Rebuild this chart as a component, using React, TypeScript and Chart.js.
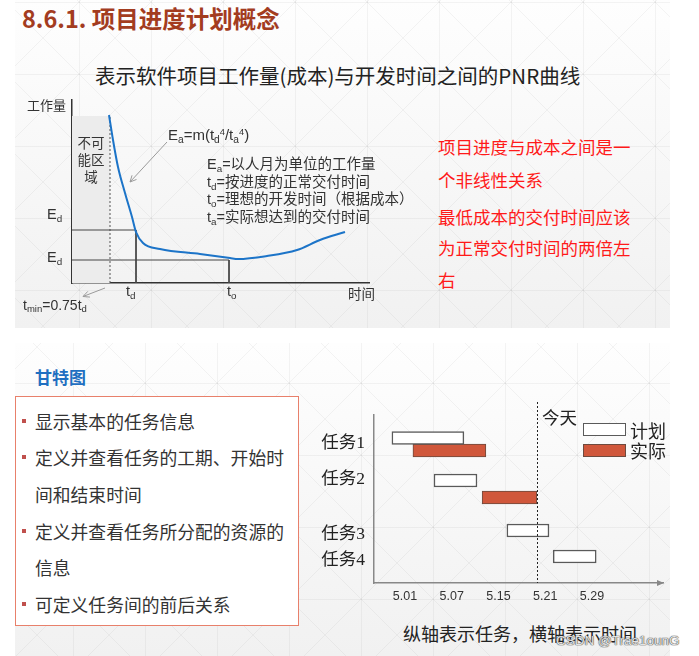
import React, { useEffect, useRef } from 'react';
import { Chart, registerables } from 'chart.js';

Chart.register(...registerables);

// ---------- PNR curve (top) ----------
const curveT = [3.7, 4.1, 4.6, 5.3, 6.0, 6.4, 7.1, 8.8, 12.8, 15.8, 16.6, 19.5, 22.5, 24.8, 27.3];
const curveE = [16.8, 14.3, 11.6, 9.0, 6.6, 5.1, 4.0, 3.4, 2.9, 2.5, 2.4, 2.7, 3.3, 4.3, 5.1];
const tMin = 3.8;
const tD = 6.4;
const tO = 15.7;
const eD = 5.3;
const eO = 2.3;
const zoneTop = 16.7;
// annotation arrows [fromT, fromE, toT, toE]
const pnrArrows = [
  [9.5, 14.1, 5.8, 10.1],
  [3.3, -0.5, 1.1, -1.35],
];

// ---------- Gantt (bottom) ----------
const tasks = ['任务1', '任务2', '任务3', '任务4'];
const timeLabels = ['5.01', '5.07', '5.15', '5.21', '5.29'];
const planStart = [-0.28, 0.62, 2.18, 3.17];
const planEnd = [1.26, 1.54, 3.08, 4.09];
const actualStart = [0.17, 1.65];
const actualEnd = [1.73, 2.82];
const todayPos = 2.82;
// row layout (vertical position units)
const planRow = [2.3, 6.55, 11.55, 14.15];
const actualRow = [3.55, 8.25];
const labelRow = [2.8, 6.4, 11.9, 14.5];
const todayTop = -1.3;

const SANS = "'Liberation Sans', 'Noto Sans CJK SC', sans-serif";
const CJK = "'Noto Sans CJK SC', 'Liberation Sans', sans-serif";
const SERIF_CJK = "'Liberation Serif', 'Noto Sans CJK SC', serif";

const tile = `<svg xmlns='http://www.w3.org/2000/svg' width='72' height='72'><path d='M0 0.5H72M0.5 0V72M0 0L72 72M72 0L0 72' stroke='rgba(0,0,0,0.045)' fill='none' stroke-width='1'/></svg>`;
const tileUrl = `url("data:image/svg+xml;utf8,${encodeURIComponent(tile)}")`;

function T(props: any) {
  const { x, cy, size, children, color = '#333', bold = false, family = SANS, style = {} } = props;
  return (
    <div
      style={{
        position: 'absolute',
        left: x,
        top: cy - size * 0.75,
        lineHeight: `${size * 1.5}px`,
        fontSize: size,
        color,
        fontWeight: bold ? 700 : 400,
        fontFamily: family,
        whiteSpace: 'nowrap',
        ...style,
      }}
    >
      {children}
    </div>
  );
}
const Sub = ({ children }: any) => (
  <span style={{ fontSize: '0.68em', position: 'relative', top: '0.3em' }}>{children}</span>
);
const Sup = ({ children }: any) => (
  <span style={{ fontSize: '0.62em', position: 'relative', top: '-0.5em' }}>{children}</span>
);

export default function App() {
  const pnrRef = useRef<HTMLCanvasElement>(null);
  const ganttRef = useRef<HTMLCanvasElement>(null);

  useEffect(() => {
    const arrowPlugin = {
      id: 'pnrArrows',
      afterDraw(chart: any) {
        const { ctx } = chart;
        const xs = chart.scales.x;
        const ys = chart.scales.y;
        ctx.save();
        ctx.strokeStyle = '#9a9a9a';
        ctx.lineWidth = 1;
        pnrArrows.forEach(([a, b, c, d]) => {
          const x1 = xs.getPixelForValue(a);
          const y1 = ys.getPixelForValue(b);
          const x2 = xs.getPixelForValue(c);
          const y2 = ys.getPixelForValue(d);
          ctx.beginPath();
          ctx.moveTo(x1, y1);
          ctx.lineTo(x2, y2);
          const ang = Math.atan2(y2 - y1, x2 - x1);
          const L = 7;
          ctx.moveTo(x2 - L * Math.cos(ang - 0.45), y2 - L * Math.sin(ang - 0.45));
          ctx.lineTo(x2, y2);
          ctx.lineTo(x2 - L * Math.cos(ang + 0.45), y2 - L * Math.sin(ang + 0.45));
          ctx.stroke();
        });
        ctx.restore();
      },
    };

    const pts = curveT.map((t, i) => ({ x: t, y: curveE[i] }));
    const c1 = new Chart(pnrRef.current as HTMLCanvasElement, {
      type: 'scatter',
      data: {
        datasets: [
          {
            data: pts,
            showLine: true,
            borderColor: '#1c74c8',
            borderWidth: 2,
            pointRadius: 0,
            cubicInterpolationMode: 'monotone',
            order: 0,
          } as any,
          {
            data: [
              { x: 0, y: eD },
              { x: tD, y: eD },
              { x: tD, y: 0 },
            ],
            showLine: true,
            borderColor: '#444',
            borderWidth: 1,
            pointRadius: 0,
            order: 1,
          },
          {
            data: [
              { x: 0, y: eO },
              { x: tO, y: eO },
              { x: tO, y: 0 },
            ],
            showLine: true,
            borderColor: '#444',
            borderWidth: 1,
            pointRadius: 0,
            order: 1,
          },
          {
            data: [
              { x: tMin, y: 0 },
              { x: tMin, y: zoneTop },
            ],
            showLine: true,
            borderColor: '#555',
            borderWidth: 1,
            borderDash: [2, 2],
            pointRadius: 0,
            order: 2,
          },
          {
            data: [
              { x: 0, y: zoneTop },
              { x: tMin, y: zoneTop },
            ],
            showLine: true,
            borderColor: 'transparent',
            backgroundColor: '#ececec',
            fill: 'origin',
            pointRadius: 0,
            order: 10,
          } as any,
        ],
      },
      options: {
        responsive: false,
        animation: false,
        devicePixelRatio: 1,
        layout: { padding: { left: 72, top: 10, right: 31, bottom: 27 } },
        plugins: { legend: { display: false }, tooltip: { enabled: false } },
        events: [],
        scales: {
          x: {
            type: 'linear',
            min: 0,
            max: 29.7,
            grid: { display: false, drawTicks: false },
            ticks: { display: false },
            border: { display: true, color: '#333', width: 1.5 },
            afterFit: (s: any) => {
              s.height = 0;
            },
          },
          y: {
            type: 'linear',
            min: 0,
            max: 18.3,
            grid: { display: false, drawTicks: false },
            ticks: { display: false },
            border: { display: true, color: '#333', width: 1.5 },
            afterFit: (s: any) => {
              s.width = 0;
            },
          },
        },
      } as any,
      plugins: [arrowPlugin],
    });

    const ganttPlugin = {
      id: 'ganttExtras',
      afterDatasetsDraw(chart: any) {
        const { ctx, chartArea } = chart;
        const xs = chart.scales.x;
        const ys = chart.scales.y;
        ctx.save();
        // today line
        const tx = Math.round(xs.getPixelForValue(todayPos)) + 0.5;
        ctx.strokeStyle = '#222';
        ctx.lineWidth = 1;
        ctx.setLineDash([2, 2]);
        ctx.beginPath();
        ctx.moveTo(tx, ys.getPixelForValue(todayTop));
        ctx.lineTo(tx, chartArea.bottom);
        ctx.stroke();
        ctx.setLineDash([]);
        // x axis arrow head
        ctx.fillStyle = '#888';
        ctx.beginPath();
        ctx.moveTo(chartArea.right + 1, chartArea.bottom);
        ctx.lineTo(chartArea.right - 6, chartArea.bottom - 3);
        ctx.lineTo(chartArea.right - 6, chartArea.bottom + 3);
        ctx.closePath();
        ctx.fill();
        ctx.restore();
      },
    };

    const c2 = new Chart(ganttRef.current as HTMLCanvasElement, {
      type: 'bar',
      data: {
        datasets: [
          {
            label: '计划',
            data: planStart.map((s, i) => ({ x: [s, planEnd[i]], y: planRow[i] })),
            backgroundColor: '#ffffff',
            borderColor: '#5a5a5a',
            borderWidth: 1.5,
            borderSkipped: false,
            barThickness: 13,
            grouped: false,
          } as any,
          {
            label: '实际',
            data: actualStart.map((s, i) => ({ x: [s, actualEnd[i]], y: actualRow[i] })),
            backgroundColor: '#d0573b',
            borderColor: '#6e4a3e',
            borderWidth: 1,
            borderSkipped: false,
            barThickness: 13,
            grouped: false,
          } as any,
        ],
      },
      options: {
        indexAxis: 'y',
        responsive: false,
        animation: false,
        devicePixelRatio: 1,
        events: [],
        layout: { padding: { left: 0, top: 35, right: 36, bottom: 7 } },
        plugins: { legend: { display: false }, tooltip: { enabled: false } },
        scales: {
          x: {
            type: 'linear',
            min: -0.663,
            max: 5.519,
            offset: false,
            grid: { display: false, drawTicks: false },
            border: { display: true, color: '#888', width: 1.5 },
            ticks: {
              autoSkip: false,
              maxRotation: 0,
              padding: 6,
              color: '#333',
              font: { family: SANS, size: 12.5 },
              callback: (_v: any, i: number) => timeLabels[i],
            },
            afterBuildTicks: (s: any) => {
              s.ticks = timeLabels.map((_, i) => ({ value: i }));
            },
            afterFit: (s: any) => {
              s.height = 30;
            },
          },
          y: {
            type: 'linear',
            reverse: true,
            min: 0,
            max: 16.8,
            offset: false,
            grid: { display: false, drawTicks: false },
            border: { display: true, color: '#888', width: 1.5 },
            ticks: {
              autoSkip: false,
              padding: 9,
              color: '#222',
              font: { family: SERIF_CJK, size: 17.5 },
              callback: (_v: any, i: number) => tasks[i],
            },
            afterBuildTicks: (s: any) => {
              s.ticks = labelRow.map((v) => ({ value: v }));
            },
            afterFit: (s: any) => {
              s.width = 74;
            },
          },
        },
      } as any,
      plugins: [ganttPlugin],
    });

    return () => {
      c1.destroy();
      c2.destroy();
    };
  }, []);

  const slideBg = (px: string) => ({
    backgroundImage: `${tileUrl}, linear-gradient(#fefefe, #f1f1f1)`,
    backgroundPosition: `${px}, 0 0`,
    backgroundRepeat: 'repeat, no-repeat',
  });

  const bullets = [
    { t: '显示基本的任务信息', cy: 421, b: true },
    { t: '定义并查看任务的工期、开始时', cy: 457, b: true },
    { t: '间和结束时间', cy: 494, b: false },
    { t: '定义并查看任务所分配的资源的', cy: 531, b: true },
    { t: '信息', cy: 567, b: false },
    { t: '可定义任务间的前后关系', cy: 604, b: true },
  ];

  const redLines = [
    { t: '项目进度与成本之间是一', cy: 147 },
    { t: '个非线性关系', cy: 180 },
    { t: '最低成本的交付时间应该', cy: 217 },
    { t: '为正常交付时间的两倍左', cy: 248 },
    { t: '右', cy: 280 },
  ];

  return (
    <div
      style={{
        position: 'absolute',
        left: 0,
        top: 0,
        width: 699,
        height: 656,
        overflow: 'hidden',
        background: '#ffffff',
        fontFamily: CJK,
      }}
    >
      {/* top slide */}
      <div style={{ position: 'absolute', left: 15, top: 0, width: 655, height: 328, ...slideBg('64px 2px') }} />
      {/* bottom slide */}
      <div style={{ position: 'absolute', left: 15, top: 343, width: 655, height: 313, ...slideBg('58px 40px') }} />

      <T x={22} cy={19} size={23.5} bold color="#a33c1f" family={CJK}>
        8.6.1. 项目进度计划概念
      </T>
      <T x={95} cy={75} size={20.5} color="#222" family={CJK}>
        表示软件项目工作量(成本)与开发时间之间的PNR曲线
      </T>

      <canvas
        ref={pnrRef}
        width={400}
        height={220}
        style={{ position: 'absolute', left: 0, top: 90, width: 400, height: 220 }}
      />

      <T x={27} cy={105} size={13} color="#333" family={CJK}>工作量</T>
      <div
        style={{
          position: 'absolute',
          left: 74,
          top: 134,
          width: 34,
          textAlign: 'center',
          fontSize: 13.5,
          lineHeight: '17px',
          color: '#333',
          fontFamily: CJK,
        }}
      >
        不可
        <br />
        能区
        <br />域
      </div>
      <T x={168} cy={135} size={15} color="#333">
        E<Sub>a</Sub>=m(t<Sub>d</Sub>
        <Sup>4</Sup>/t<Sub>a</Sub>
        <Sup>4</Sup>)
      </T>
      <T x={207} cy={165} size={14.5} color="#333">
        E<Sub>a</Sub>=以人月为单位的工作量
      </T>
      <T x={207} cy={183} size={14.5} color="#333">
        t<Sub>d</Sub>=按进度的正常交付时间
      </T>
      <T x={207} cy={200} size={14.5} color="#333">
        t<Sub>o</Sub>=理想的开发时间（根据成本）
      </T>
      <T x={207} cy={218} size={14.5} color="#333">
        t<Sub>a</Sub>=实际想达到的交付时间
      </T>
      <T x={47} cy={215} size={14.5} color="#333">
        E<Sub>d</Sub>
      </T>
      <T x={47} cy={258} size={14.5} color="#333">
        E<Sub>d</Sub>
      </T>
      <T x={126} cy={292} size={14.5} color="#333">
        t<Sub>d</Sub>
      </T>
      <T x={227} cy={292} size={14.5} color="#333">
        t<Sub>o</Sub>
      </T>
      <T x={348} cy={293} size={13.5} color="#333" family={CJK}>时间</T>
      <T x={23} cy={305} size={14} color="#333">
        t<Sub>min</Sub>=0.75t<Sub>d</Sub>
      </T>

      {redLines.map((l) => (
        <T key={l.t} x={438} cy={l.cy} size={17.5} color="#ff1a1a" family={CJK}>
          {l.t}
        </T>
      ))}

      {/* bottom left */}
      <T x={35} cy={377} size={17} bold color="#1f6fc1" family={CJK}>甘特图</T>
      <div
        style={{
          position: 'absolute',
          left: 15,
          top: 396,
          width: 282,
          height: 228,
          border: '1.5px solid #e8806b',
          background: '#ffffff',
        }}
      />
      {bullets.map((b) => (
        <React.Fragment key={b.t}>
          {b.b && (
            <div
              style={{
                position: 'absolute',
                left: 22,
                top: b.cy - 2,
                width: 4,
                height: 4,
                background: '#c0504d',
              }}
            />
          )}
          <T x={35} cy={b.cy} size={17.8} color="#333" family={CJK}>
            {b.t}
          </T>
        </React.Fragment>
      ))}

      {/* gantt */}
      <canvas
        ref={ganttRef}
        width={399}
        height={240}
        style={{ position: 'absolute', left: 300, top: 380, width: 399, height: 240 }}
      />
      <T x={542} cy={417} size={17.5} color="#222" family={CJK}>今天</T>
      <div
        style={{
          position: 'absolute',
          left: 583,
          top: 423,
          width: 43,
          height: 13,
          boxSizing: 'border-box',
          border: '1.5px solid #5a5a5a',
          background: '#fff',
        }}
      />
      <div
        style={{
          position: 'absolute',
          left: 583,
          top: 444,
          width: 43,
          height: 13,
          boxSizing: 'border-box',
          border: '1px solid #6e4a3e',
          background: '#d0573b',
        }}
      />
      <T x={630} cy={430} size={18} color="#222" family={CJK}>计划</T>
      <T x={630} cy={450} size={18} color="#222" family={CJK}>实际</T>
      <T x={403} cy={633} size={18} color="#222" family={CJK}>
        纵轴表示任务，横轴表示时间
      </T>
      <T
        x={556}
        cy={641}
        size={13.5}
        color="rgba(255,255,255,0.85)"
        family={SANS}
        style={{ textShadow: '0 0 1px #555, 0 0 1px #555, 0 0 1px #555' }}
      >
        CSDN @Trae1ounG
      </T>
    </div>
  );
}
